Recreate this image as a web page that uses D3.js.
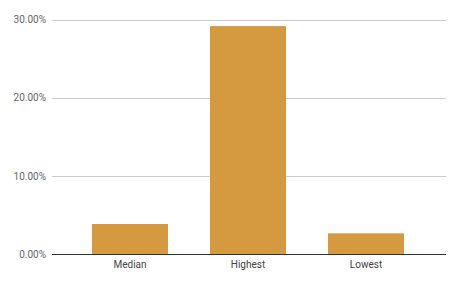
<!DOCTYPE html>
<html>
<head>
<meta charset="utf-8">
<script src="https://cdn.jsdelivr.net/npm/d3@7"></script>
<style>
  body { margin: 0; background: #fff; }
  text { font-family: Roboto, "Noto Sans", sans-serif; }
</style>
</head>
<body>
<div id="chart"></div>
<script>
var categories = ["Median", "Highest", "Lowest"];
var values = [0.0387, 0.2916, 0.0268];
var y_ticks = [0, 0.1, 0.2, 0.3];

var width = 460, height = 284;
var grid_left = 52, grid_right = 446;

var svg = d3.select("#chart").append("svg")
    .attr("width", width)
    .attr("height", height);

var x = d3.scaleBand()
    .domain(categories)
    .range([71, 425])
    .paddingInner(0.356)
    .paddingOuter(0.178);

var y = d3.scaleLinear()
    .domain([0, 0.3])
    .range([254.3, 19.5]);

// gridlines
svg.append("g")
    .selectAll("line")
    .data(y_ticks.filter(function(d) { return d > 0; }))
    .enter().append("line")
    .attr("x1", grid_left)
    .attr("x2", grid_right)
    .attr("y1", function(d) { return Math.round(y(d)) + 0.5; })
    .attr("y2", function(d) { return Math.round(y(d)) + 0.5; })
    .attr("stroke", "#cccccc")
    .attr("stroke-width", 1);

// tick labels
svg.append("g")
    .selectAll("text")
    .data(y_ticks)
    .enter().append("text")
    .attr("x", 46)
    .attr("y", function(d) { return y(d); })
    .attr("dy", "0.35em")
    .attr("text-anchor", "end")
    .attr("font-size", 10)
    .attr("fill", "#666")
    .text(function(d) { return d3.format(".2%")(d); });

// bars
svg.append("g")
    .selectAll("rect")
    .data(values)
    .enter().append("rect")
    .attr("x", function(d, i) { return x(categories[i]); })
    .attr("width", x.bandwidth())
    .attr("y", function(d) { return y(d); })
    .attr("height", function(d) { return y(0) - y(d); })
    .attr("fill", "#d59a3f");

// baseline
svg.append("line")
    .attr("x1", grid_left)
    .attr("x2", grid_right)
    .attr("y1", Math.round(y(0)) + 0.5)
    .attr("y2", Math.round(y(0)) + 0.5)
    .attr("stroke", "#333")
    .attr("stroke-width", 1);

// category labels
svg.append("g")
    .selectAll("text")
    .data(categories)
    .enter().append("text")
    .attr("x", function(d) { return x(d) + x.bandwidth() / 2; })
    .attr("y", 268)
    .attr("text-anchor", "middle")
    .attr("font-size", 10)
    .attr("fill", "#444")
    .text(function(d) { return d; });
</script>
</body>
</html>
